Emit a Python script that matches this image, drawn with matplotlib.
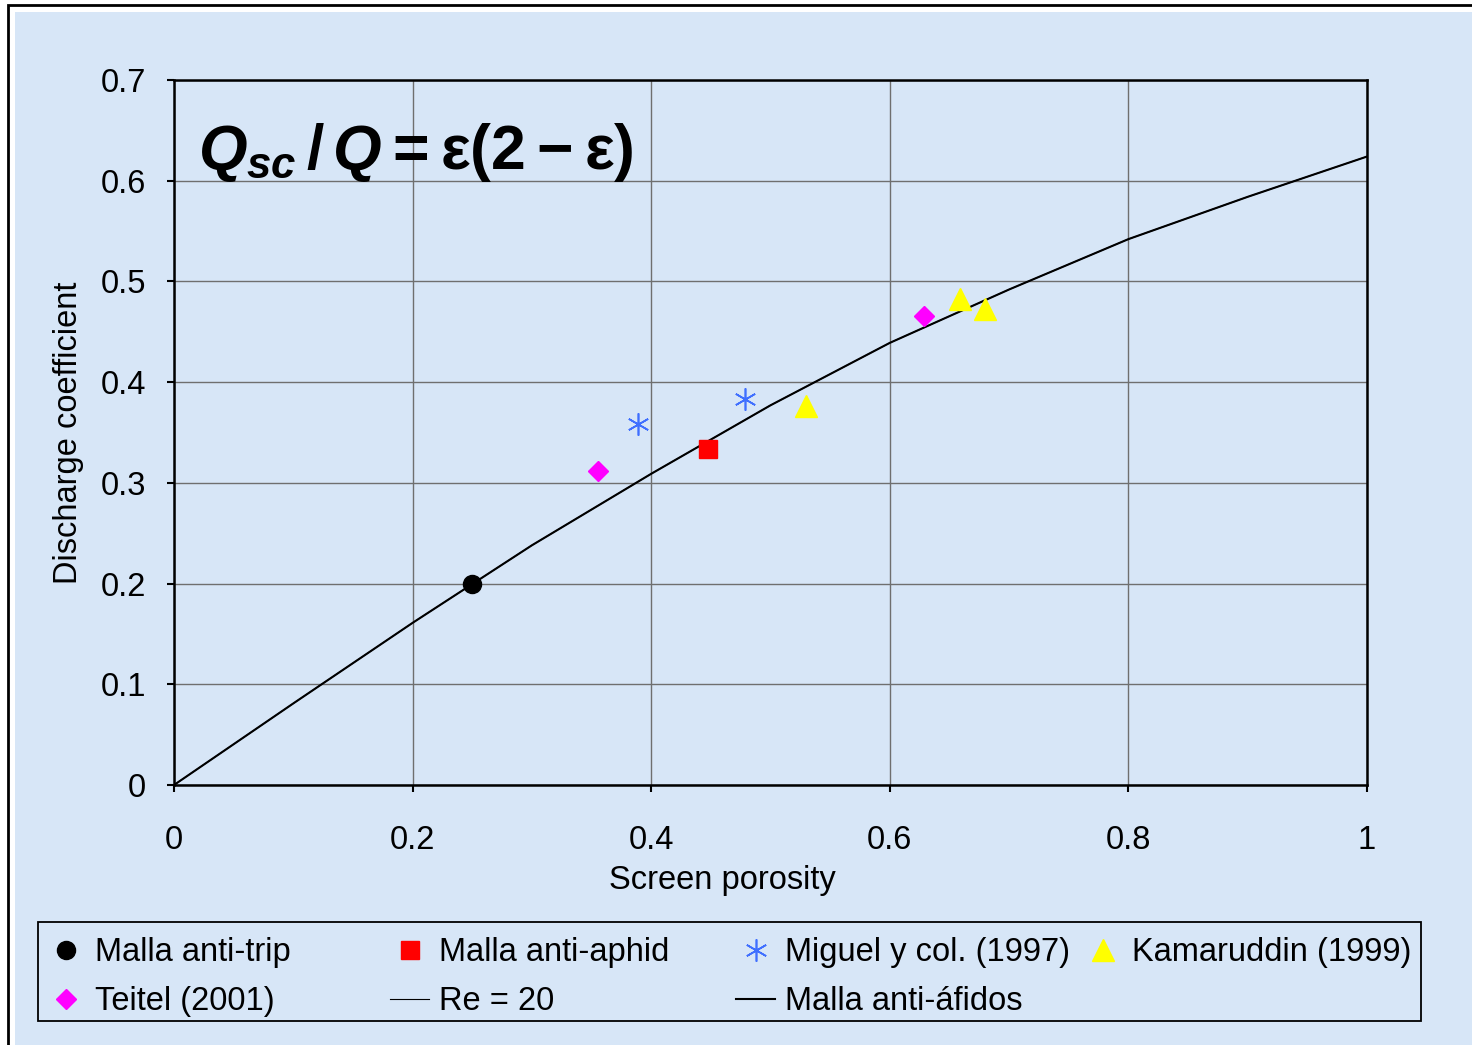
import matplotlib
matplotlib.use('Agg')
import matplotlib.pyplot as plt
from matplotlib.patches import Rectangle

plt.rcParams['font.family'] = ['Liberation Sans', 'DejaVu Sans']
plt.rcParams['mathtext.fontset'] = 'custom'
plt.rcParams['mathtext.rm'] = 'Liberation Sans:bold'
plt.rcParams['mathtext.it'] = 'Liberation Sans:italic:bold'
plt.rcParams['mathtext.bf'] = 'Liberation Sans:bold'

# data
anti_trip_x = [0.25]
anti_trip_y = [0.20]
anti_aphid_x = [0.448]
anti_aphid_y = [0.334]
miguel_x = [0.389, 0.479]
miguel_y = [0.358, 0.383]
kamaruddin_x = [0.530, 0.659, 0.680]
kamaruddin_y = [0.376, 0.483, 0.473]
teitel_x = [0.355, 0.629]
teitel_y = [0.312, 0.466]
curve_x = [0, 0.1, 0.2, 0.3, 0.4, 0.5, 0.6, 0.7, 0.8, 0.9, 1.0]
curve_y = [0, 0.081, 0.161, 0.238, 0.309, 0.377, 0.439, 0.492, 0.542, 0.584, 0.624]

x_ticks = [0, 0.2, 0.4, 0.6, 0.8, 1.0]
x_labels = ['0', '0.2', '0.4', '0.6', '0.8', '1']
y_ticks = [0, 0.1, 0.2, 0.3, 0.4, 0.5, 0.6, 0.7]
y_labels = ['0', '0.1', '0.2', '0.3', '0.4', '0.5', '0.6', '0.7']

W, H = 1472, 1045
bg = '#d7e6f7'
fs = 23.5
fig = plt.figure(figsize=(W / 100, H / 100), dpi=100, facecolor='white')

# chart area background and frame
fig.patches.append(Rectangle((15 / W, -0.02), 1.05, 1 - 12 / H + 0.02, transform=fig.transFigure,
                             facecolor=bg, edgecolor='none', zorder=-10))
fig.patches.append(Rectangle((8 / W, -0.02), 1.05, 1 - 5 / H + 0.02, transform=fig.transFigure,
                             facecolor='none', edgecolor='black', lw=2, zorder=-9))

ax = fig.add_axes([174 / W, 1 - 785 / H, (1367 - 174) / W, (785 - 80) / H])
ax.set_facecolor('none')

ax.plot(curve_x, curve_y, color='black', lw=0.8, label='Re = 20', zorder=3)
ax.plot(curve_x, curve_y, color='black', lw=1.5, label='Malla anti-áfidos', zorder=3)
ax.plot(anti_trip_x, anti_trip_y, 'o', color='black', ms=13, label='Malla anti-trip', zorder=4)
ax.plot(anti_aphid_x, anti_aphid_y, 's', color='red', ms=13, label='Malla anti-aphid', zorder=4)
ax.plot(miguel_x, miguel_y, marker=(6, 2, 0), ls='none', color='#3f6fff', mec='#3f6fff',
        ms=16, mew=1.2, label='Miguel y col. (1997)', zorder=4)
ax.plot(kamaruddin_x, kamaruddin_y, '^', color='yellow', ms=16, label='Kamaruddin (1999)', zorder=4)
ax.plot(teitel_x, teitel_y, 'D', color='magenta', ms=10, label='Teitel (2001)', zorder=4)

ax.set_xlim(0, 1)
ax.set_ylim(0, 0.7)
ax.set_xticks(x_ticks)
ax.set_xticklabels(x_labels)
ax.set_yticks(y_ticks)
ax.set_yticklabels(y_labels)
ax.tick_params(labelsize=fs, length=5, width=1.5, direction='out')
ax.tick_params(axis='x', pad=24)
ax.tick_params(axis='y', pad=15)
ax.grid(True, color='#6f6f6f', lw=1)
ax.set_axisbelow(True)
for s in ax.spines.values():
    s.set_color('black')
    s.set_linewidth(1.8)

ax.set_xlabel('Screen porosity', fontsize=fs)
ax.xaxis.set_label_coords((722 - 174) / 1193, -(881 - 785) / 705, transform=ax.transAxes)
ax.xaxis.label.set_va('center')
ax.set_ylabel('Discharge coefficient', fontsize=fs, labelpad=12)

ax.text(0.02, 0.897, r'$Q_{sc}\,\mathit{/}\,Q = \mathrm{\varepsilon(2-\varepsilon)}$', transform=ax.transAxes,
        fontsize=45, va='center', ha='left')

# legend: frame plus one borderless legend per column so the columns sit on an even grid
h, l = ax.get_legend_handles_labels()
d = dict(zip(l, h))
columns = [['Malla anti-trip', 'Teitel (2001)'],
           ['Malla anti-aphid', 'Re = 20'],
           ['Miguel y col. (1997)', 'Malla anti-áfidos'],
           ['Kamaruddin (1999)']]
col_left = [46, 390, 736, 1083]
fig.patches.append(Rectangle((38 / W, 1 - 1021 / H), (1421 - 38) / W, (1021 - 922) / H,
                             transform=fig.transFigure, facecolor='none', edgecolor='black', lw=1.3))
for names, xl in zip(columns, col_left):
    fig.legend([d[k] for k in names], names, loc='upper left',
               bbox_to_anchor=(xl / W, 1 - 937 / H), fontsize=fs, frameon=False,
               borderaxespad=0, borderpad=0, handlelength=1.2, handletextpad=0.3,
               labelspacing=0.55)

fig.savefig('out.png', dpi=100, facecolor='white')
